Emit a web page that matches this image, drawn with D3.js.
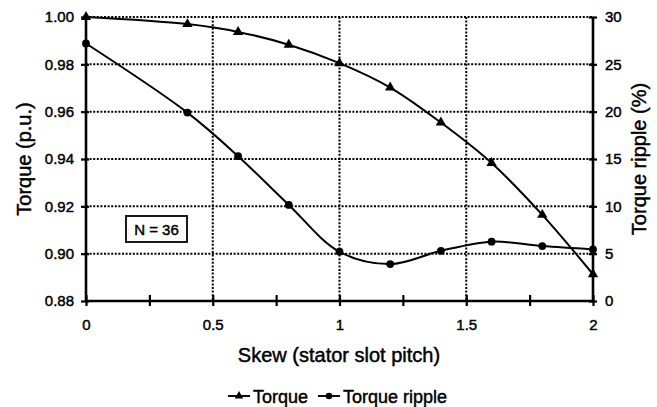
<!DOCTYPE html>
<html>
<head>
<meta charset="utf-8">
<script src="https://cdn.jsdelivr.net/npm/d3@7"></script>
<style>
  html, body { margin: 0; padding: 0; background: #fff; }
  svg { display: block; font-family: "Liberation Sans", Arial, Helvetica, sans-serif; }
  svg text { fill: #000; stroke: #000; stroke-width: 0.45px; }
</style>
</head>
<body>
<svg id="chart" width="657" height="407"></svg>
<script>
// Skew values in stator slot pitches
const skew = [0, 0.4, 0.6, 0.8, 1.0, 1.2, 1.4, 1.6, 1.8, 2.0];
// Average torque, per unit
const torque = [1.000, 0.997, 0.9937, 0.9883, 0.9805, 0.9702, 0.9554, 0.9383, 0.9164, 0.8913];
// Torque ripple, percent
const ripple = [27.2, 19.9, 15.3, 10.15, 5.2, 3.9, 5.3, 6.27, 5.8, 5.45];

const xTicks = [0, 0.5, 1, 1.5, 2];
const xMinorTicks = [0, 0.25, 0.5, 0.75, 1, 1.25, 1.5, 1.75, 2];
const yLeftTicks = [0.88, 0.90, 0.92, 0.94, 0.96, 0.98, 1.00];
const yRightTicks = [0, 5, 10, 15, 20, 25, 30];

const svg = d3.select("#chart");
const plotL = 86, plotR = 593, plotT = 17, plotB = 301;

const x = d3.scaleLinear().domain([0, 2]).range([plotL, plotR]);
const yL = d3.scaleLinear().domain([0.88, 1.00]).range([plotB, plotT]);
const yR = d3.scaleLinear().domain([0, 30]).range([plotB, plotT]);

// dotted grid
const grid = svg.append("g")
  .attr("stroke", "#000").attr("stroke-width", 2)
  .attr("stroke-dasharray", "2,1.6");
grid.selectAll("line.h").data(yLeftTicks.filter(d => d > 0.88)).join("line")
  .attr("class", "h")
  .attr("x1", plotL).attr("x2", plotR)
  .attr("y1", d => yL(d)).attr("y2", d => yL(d));
grid.selectAll("line.v").data(xTicks.filter(d => d > 0 && d < 2)).join("line")
  .attr("class", "v")
  .attr("y1", plotT).attr("y2", plotB)
  .attr("x1", d => x(d)).attr("x2", d => x(d));

// axes
const fmt2 = d3.format(".2f");
const axisLeft = svg.append("g").attr("transform", `translate(${plotL},0)`)
  .call(d3.axisLeft(yL).tickValues(yLeftTicks).tickFormat(fmt2).tickSize(5).tickPadding(7));
const axisRight = svg.append("g").attr("transform", `translate(${plotR},0)`)
  .call(d3.axisRight(yR).tickValues(yRightTicks).tickSize(4).tickPadding(8));
const axisBottom = svg.append("g").attr("transform", `translate(0,${plotB})`)
  .call(d3.axisBottom(x).tickValues(xMinorTicks)
    .tickFormat(d => xTicks.includes(d) ? d3.format("")(d) : "")
    .tickSize(5).tickPadding(13));

[axisLeft, axisRight, axisBottom].forEach(g => {
  g.select(".domain").attr("stroke", "#000").attr("stroke-width", 2.6);
  g.selectAll(".tick line").attr("stroke", "#000").attr("stroke-width", 2.2);
  g.selectAll(".tick text").attr("fill", "#000").attr("font-size", 15)
    .attr("font-family", "\"Liberation Sans\", Arial, sans-serif");
});
// ticks cross the axis lines
axisLeft.selectAll(".tick line").attr("x1", 3);
axisRight.selectAll(".tick line").attr("x1", -4);
axisBottom.selectAll(".tick line").attr("y1", -6);
axisBottom.selectAll(".tick text").attr("dy", "0.71em");
axisLeft.select(".domain").attr("d", `M0,${plotB}V${plotT}`);
axisRight.select(".domain").attr("d", `M0,${plotB}V${plotT}`);
axisBottom.select(".domain").attr("d", `M${plotL},0H${plotR}`);

// series lines
const torqueLine = d3.line().x((d, i) => x(skew[i])).y(d => yL(d)).curve(d3.curveCatmullRom.alpha(0.5));
const rippleLine = d3.line().x((d, i) => x(skew[i])).y(d => yR(d)).curve(d3.curveCatmullRom.alpha(0.5));

svg.append("path").datum(torque).attr("d", torqueLine)
  .attr("fill", "none").attr("stroke", "#000").attr("stroke-width", 2);
svg.append("path").datum(ripple).attr("d", rippleLine)
  .attr("fill", "none").attr("stroke", "#000").attr("stroke-width", 2);

const tri = d3.symbol().type(d3.symbolTriangle).size(46);
svg.append("g").selectAll("path").data(torque).join("path")
  .attr("d", tri)
  .attr("transform", (d, i) => `translate(${x(skew[i])},${yL(d)})`)
  .attr("fill", "#000");
svg.append("g").selectAll("circle").data(ripple).join("circle")
  .attr("cx", (d, i) => x(skew[i])).attr("cy", d => yR(d)).attr("r", 3.9)
  .attr("fill", "#000");

// N = 36 annotation
const note = svg.append("g");
note.append("rect").attr("x", 126).attr("y", 216).attr("width", 61).attr("height", 26)
  .attr("fill", "#fff").attr("stroke", "#000").attr("stroke-width", 1.8);
note.append("text").attr("x", 156.5).attr("y", 234.5).attr("text-anchor", "middle")
  .attr("font-size", 15).text("N = 36");

// axis titles
svg.append("text").attr("transform", `translate(31,${(plotT + plotB) / 2}) rotate(-90)`)
  .attr("text-anchor", "middle").attr("font-size", 20).text("Torque (p.u.)");
svg.append("text").attr("transform", `translate(646,${(plotT + plotB) / 2}) rotate(-90)`)
  .attr("text-anchor", "middle").attr("font-size", 20).text("Torque ripple (%)");
svg.append("text").attr("x", (plotL + plotR) / 2 - 0.5).attr("y", 362)
  .attr("text-anchor", "middle").attr("font-size", 20).text("Skew (stator slot pitch)");

// legend
const legend = svg.append("g").attr("transform", "translate(0,396)");
const items = [
  { label: "Torque", x0: 228, marker: "tri" },
  { label: "Torque ripple", x0: 318, marker: "circle" }
];
items.forEach(it => {
  legend.append("line").attr("x1", it.x0).attr("x2", it.x0 + 22).attr("y1", 0).attr("y2", 0)
    .attr("stroke", "#000").attr("stroke-width", 1.9);
  if (it.marker === "tri") {
    legend.append("path").attr("d", d3.symbol().type(d3.symbolTriangle).size(32))
      .attr("transform", `translate(${it.x0 + 11},0)`).attr("fill", "#000");
  } else {
    legend.append("circle").attr("cx", it.x0 + 11).attr("cy", 0).attr("r", 3.3).attr("fill", "#000");
  }
  legend.append("text").attr("x", it.x0 + 25).attr("y", 6.5).attr("font-size", 18).text(it.label);
});
</script>
</body>
</html>
